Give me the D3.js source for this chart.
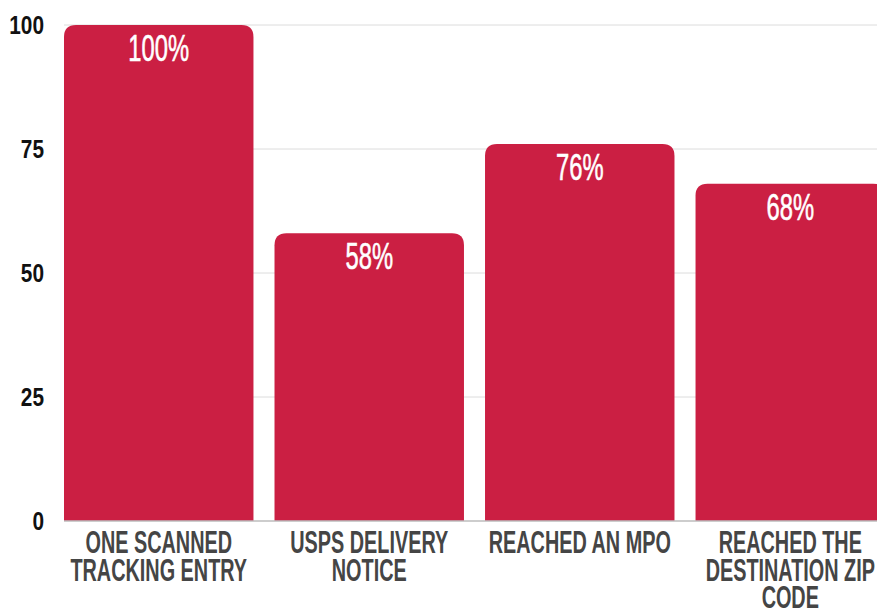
<!DOCTYPE html>
<html>
<head>
<meta charset="utf-8">
<script src="https://cdn.jsdelivr.net/npm/d3@7"></script>
<style>
  html, body { margin: 0; padding: 0; background: #fff; }
  svg { display: block; }
</style>
</head>
<body>
<svg id="chart" width="877" height="614"></svg>
<script>
// Share of tracked items reaching each milestone (%)
const categories = [
  ["ONE SCANNED", "TRACKING ENTRY"],
  ["USPS DELIVERY", "NOTICE"],
  ["REACHED AN MPO"],
  ["REACHED THE", "DESTINATION ZIP", "CODE"]
];
const values = [100, 58, 76, 68];
const yTicks = [0, 25, 50, 75, 100];

const W = 877, H = 614;
const margin = { top: 25, left: 64, bottom: 93 };
const barColor = "#cb1f43";
const fontStack = "'Liberation Sans', Arial, sans-serif";

const svg = d3.select("#chart");

const x = d3.scaleBand()
  .domain(d3.range(values.length))
  .range([margin.left, 885])
  .paddingInner(0.1)
  .paddingOuter(0);

const y = d3.scaleLinear()
  .domain([0, 100])
  .range([H - margin.bottom, margin.top]);

// horizontal grid lines
svg.append("g")
  .selectAll("line")
  .data(yTicks.filter(t => t > 0))
  .join("line")
  .attr("x1", margin.left).attr("x2", W)
  .attr("y1", d => y(d)).attr("y2", d => y(d))
  .attr("stroke", "#dcdcdc").attr("stroke-width", 1);

// condensed text: glyphs squeezed horizontally around the anchor point
function condensed(sel, sx) {
  sel.attr("transform", function () {
    const t = d3.select(this);
    return `translate(${+t.attr("data-x")},${+t.attr("data-y")}) scale(${sx},1)`;
  });
}

// y axis labels
svg.append("g")
  .selectAll("text")
  .data(yTicks)
  .join("text")
  .attr("data-x", 44).attr("data-y", d => y(d) + 9)
  .attr("text-anchor", "end")
  .attr("font-family", fontStack)
  .attr("font-weight", "bold")
  .attr("font-size", 26)
  .attr("fill", "#111")
  .text(d => d)
  .call(condensed, 0.8);

// bars with rounded top corners
const r = 12;
function barPath(i) {
  const x0 = x(i), x1 = x(i) + x.bandwidth();
  const y0 = y(0), y1 = y(values[i]);
  return `M${x0},${y0} L${x0},${y1 + r} Q${x0},${y1} ${x0 + r},${y1}` +
         ` L${x1 - r},${y1} Q${x1},${y1} ${x1},${y1 + r} L${x1},${y0} Z`;
}
svg.append("g")
  .selectAll("path")
  .data(values.map((v, i) => i))
  .join("path")
  .attr("d", barPath)
  .attr("fill", barColor);

// baseline
svg.append("line")
  .attr("x1", margin.left).attr("x2", W)
  .attr("y1", y(0)).attr("y2", y(0))
  .attr("stroke", "#bdbdbd").attr("stroke-width", 1.5);

// value labels inside bars
svg.append("g")
  .selectAll("text")
  .data(values)
  .join("text")
  .attr("data-x", (d, i) => x(i) + x.bandwidth() / 2)
  .attr("data-y", d => y(d) + 36)
  .attr("text-anchor", "middle")
  .attr("font-family", fontStack)
  .attr("font-size", 36)
  .attr("fill", "#fff")
  .attr("stroke", "#fff").attr("stroke-width", 0.6)
  .text(d => d + "%")
  .call(condensed, 0.66);

// category labels, one multi-line text per bar
const lineH = 27.5;
svg.append("g")
  .selectAll("text")
  .data(categories)
  .join("text")
  .attr("data-x", (d, i) => x(i) + x.bandwidth() / 2)
  .attr("data-y", 553)
  .attr("text-anchor", "middle")
  .attr("font-family", fontStack)
  .attr("font-weight", "bold")
  .attr("font-size", 32)
  .attr("fill", "#454545")
  .call(condensed, 0.62)
  .selectAll("tspan")
  .data(d => d)
  .join("tspan")
  .attr("x", 0)
  .attr("dy", (d, j) => j === 0 ? 0 : lineH)
  .text(d => d);
</script>
</body>
</html>
